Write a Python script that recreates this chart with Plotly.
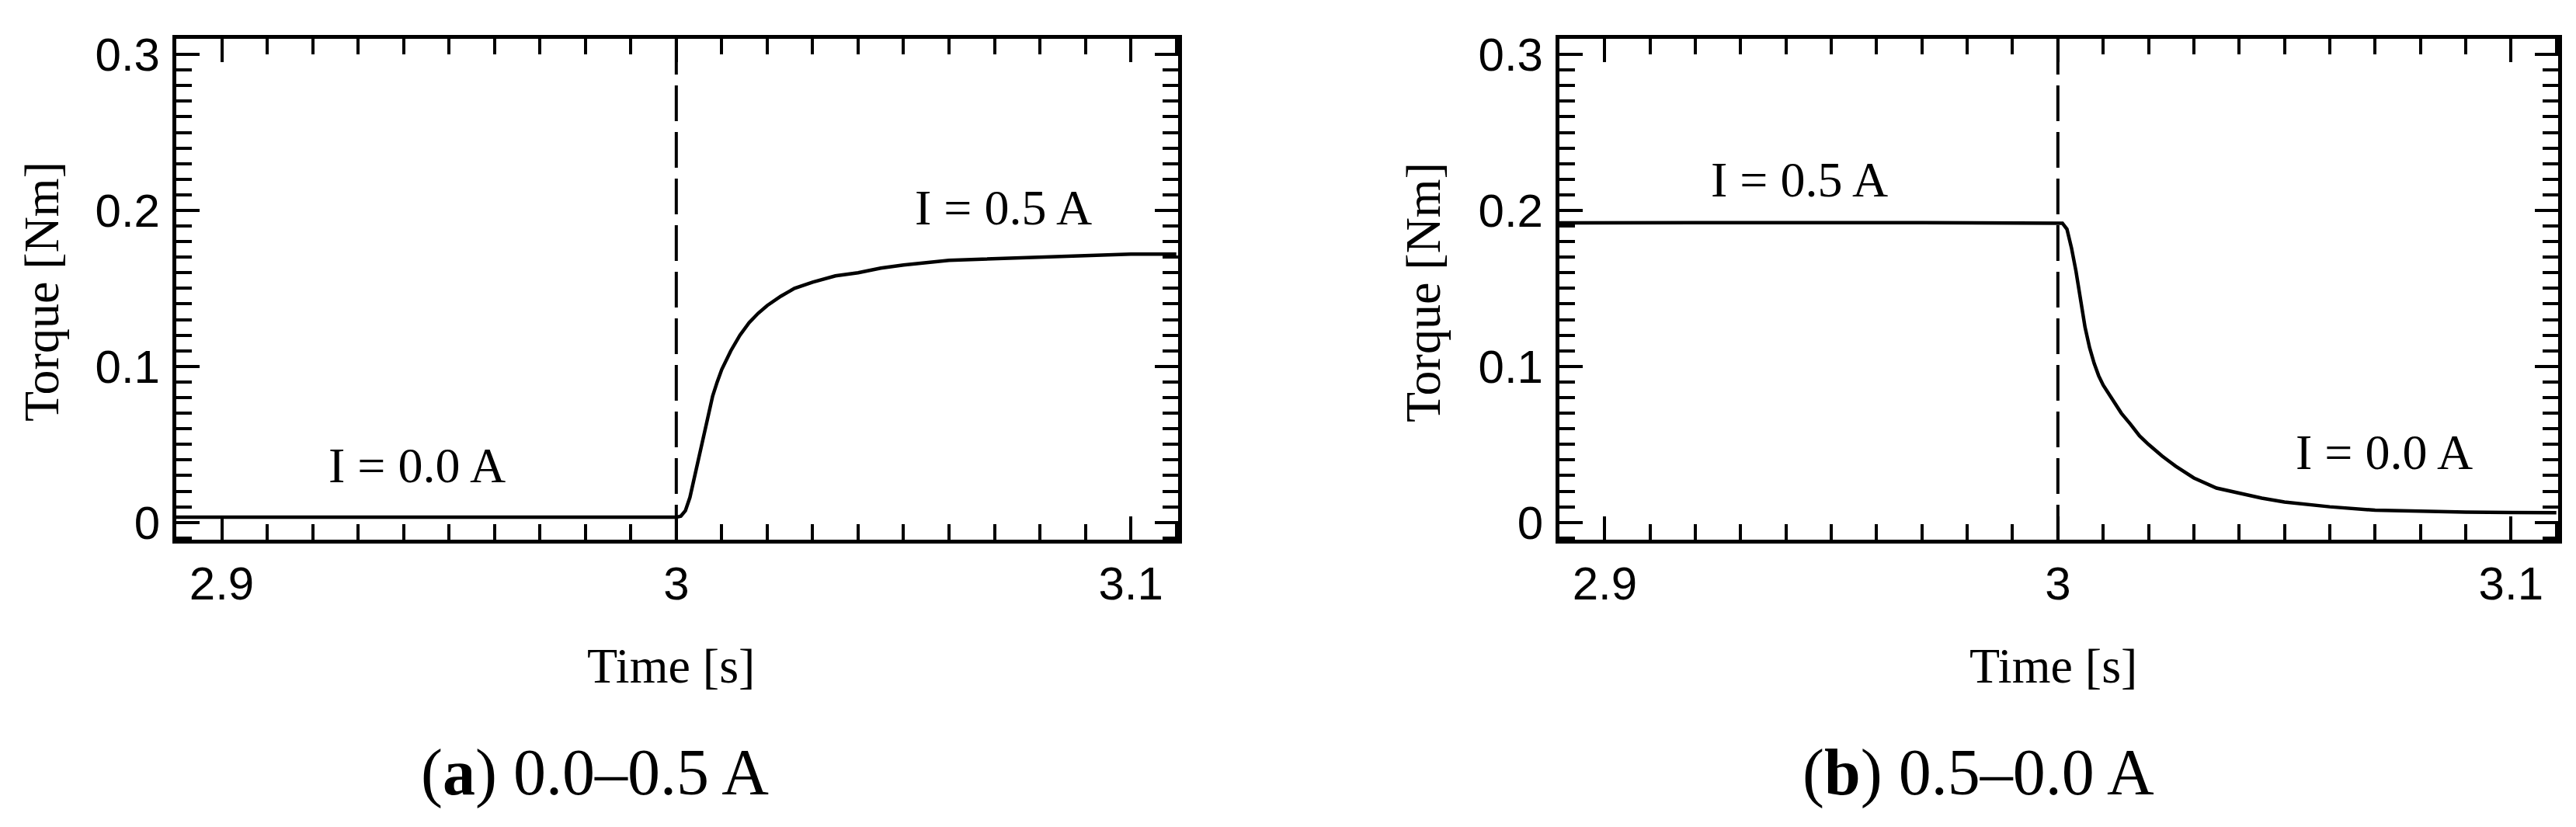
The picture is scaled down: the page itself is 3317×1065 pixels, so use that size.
import plotly.graph_objects as go

# panel (a): current step 0.0 -> 0.5 A
time_a = [2.89, 2.95, 3.0, 3.001, 3.002, 3.003, 3.004, 3.005, 3.006, 3.007, 3.008,
          3.009, 3.010, 3.012, 3.014, 3.016, 3.018, 3.020, 3.023, 3.026, 3.030,
          3.035, 3.040, 3.045, 3.050, 3.060, 3.070, 3.080, 3.090, 3.100, 3.110]
torque_a = [0.0033, 0.0033, 0.0033, 0.0040, 0.0075, 0.016, 0.029, 0.043, 0.057, 0.070, 0.081,
            0.090, 0.098, 0.110, 0.120, 0.128, 0.134, 0.139, 0.145, 0.150, 0.154,
            0.158, 0.160, 0.163, 0.165, 0.168, 0.169, 0.170, 0.171, 0.172, 0.172]

# panel (b): current step 0.5 -> 0.0 A
time_b = [2.89, 2.90, 2.91, 2.92, 2.93, 2.94, 2.95, 2.96, 2.97, 2.98, 2.99, 3.0,
          3.001, 3.002, 3.003, 3.004, 3.005, 3.006, 3.007, 3.008, 3.009, 3.010,
          3.012, 3.014, 3.016, 3.018, 3.020, 3.023, 3.026, 3.030, 3.035, 3.040,
          3.045, 3.050, 3.060, 3.070, 3.080, 3.090, 3.100, 3.110]
torque_b = [0.1920, 0.1921, 0.1925, 0.1922, 0.1921, 0.1923, 0.1921, 0.1922, 0.1921, 0.1920, 0.1922, 0.1922,
            0.1918, 0.1880, 0.1760, 0.1610, 0.1420, 0.1250, 0.1120, 0.1020, 0.0940, 0.0880,
            0.0790, 0.0700, 0.0630, 0.0555, 0.0500, 0.0425, 0.0360, 0.0285, 0.0220, 0.0185,
            0.0155, 0.0130, 0.0100, 0.0078, 0.0070, 0.0066, 0.0063, 0.0062]

switch_time = 3.0
x_range = [2.89, 3.1104]
y_range = [-0.0111, 0.310]

# (text, x, y) for the in-plot labels
labels_a = [("I = 0.0 A", 2.943, 0.0365), ("I = 0.5 A", 3.072, 0.2015)]
labels_b = [("I = 0.5 A", 2.943, 0.2195), ("I = 0.0 A", 3.072, 0.045)]

captions = ["(<b>a</b>) 0.0–0.5 A", "(<b>b</b>) 0.5–0.0 A"]

W, H = 3317, 1065
SANS = "Liberation Sans, Arial, sans-serif"
SERIF = "Liberation Serif, Times New Roman, serif"

fig = go.Figure()
fig.add_trace(go.Scatter(x=time_a, y=torque_a, mode="lines",
                         line=dict(color="black", width=4.5), xaxis="x", yaxis="y"))
fig.add_trace(go.Scatter(x=time_b, y=torque_b, mode="lines",
                         line=dict(color="black", width=4.5), xaxis="x2", yaxis="y2"))


def axis_style(major, minor, rng, domain, anchor):
    return dict(
        domain=domain, range=rng, anchor=anchor, autorange=False,
        showline=True, linewidth=5, linecolor="black", mirror="ticks",
        ticks="inside", ticklen=30, tickwidth=4, tickcolor="black",
        tick0=0, dtick=major,
        minor=dict(tick0=0, dtick=minor, ticks="inside", ticklen=20,
                   tickwidth=4, tickcolor="black", showgrid=False),
        showgrid=False, zeroline=False,
        tickfont=dict(family=SANS, size=60, color="black"),
        automargin=False,
    )


ydom = [(H - 687) / H, (H - 42) / H]
fig.update_layout(
    width=W, height=H,
    margin=dict(l=0, r=0, t=0, b=0),
    paper_bgcolor="white", plot_bgcolor="white",
    showlegend=False,
    xaxis=axis_style(0.1, 0.01, x_range, [219 / W, 1509 / W], "y"),
    yaxis=axis_style(0.1, 0.01, y_range, ydom, "x"),
    xaxis2=axis_style(0.1, 0.01, x_range, [2000 / W, 3286 / W], "y2"),
    yaxis2=axis_style(0.1, 0.01, y_range, ydom, "x2"),
)
fig.update_yaxes(ticklabelstandoff=4)

# dashed switching line
for xr, yr in [("x", "y"), ("x2", "y2")]:
    fig.add_shape(type="line", xref=xr, yref=yr + " domain",
                  x0=switch_time, x1=switch_time, y0=1, y1=0,
                  line=dict(color="black", width=4, dash="46px,14px"))

for xr, yr, labs in [("x", "y", labels_a), ("x2", "y2", labels_b)]:
    for text, lx, ly in labs:
        fig.add_annotation(text=text, x=lx, y=ly, xref=xr, yref=yr, showarrow=False,
                           xanchor="center", yanchor="middle",
                           font=dict(family=SERIF, size=64, color="black"))

# axis titles and sub-captions
for cx_time, cx_torque, cx_cap, cap in [(856, 45, 758, captions[0]),
                                         (2636, 1824, 2539, captions[1])]:
    fig.add_annotation(text="Time [s]", x=cx_time / W, y=1 - 849 / H, xref="paper", yref="paper",
                       xanchor="center", yanchor="middle", showarrow=False,
                       font=dict(family=SERIF, size=64, color="black"))
    fig.add_annotation(text="Torque [Nm]", x=cx_torque / W, y=1 - 368 / H, xref="paper",
                       yref="paper", textangle=-90, xanchor="center", yanchor="middle",
                       showarrow=False, font=dict(family=SERIF, size=64, color="black"))
    fig.add_annotation(text=cap, x=cx_cap / W, y=1 - 987 / H, xref="paper", yref="paper",
                       xanchor="center", yanchor="middle", showarrow=False,
                       font=dict(family=SERIF, size=84, color="black"))

fig.write_html("out.html")
